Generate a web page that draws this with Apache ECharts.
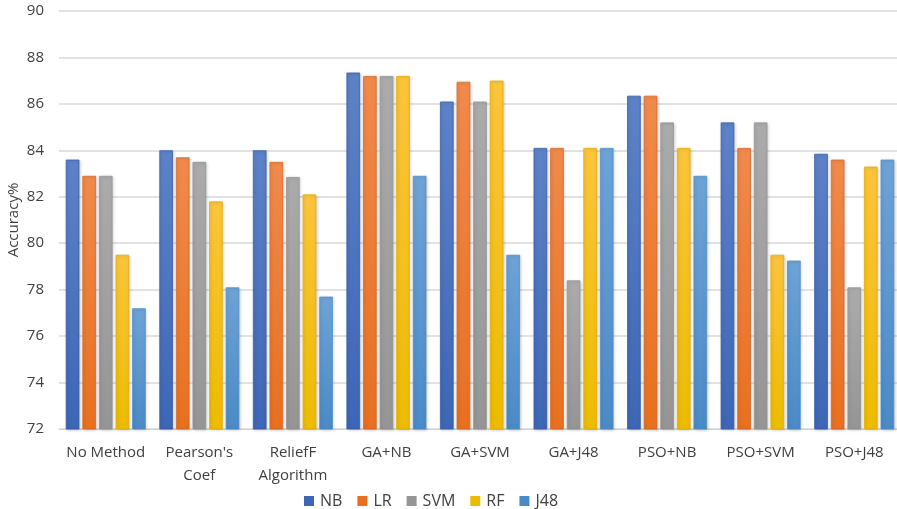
<!DOCTYPE html>
<html>
<head>
<meta charset="utf-8">
<script src="https://cdn.jsdelivr.net/npm/echarts@6/dist/echarts.min.js"></script>
<style>
  html, body { margin: 0; padding: 0; background: #fff; }
  #chart { width: 897px; height: 509px; }
</style>
</head>
<body>
<div id="chart"></div>
<script>
// Feature-selection methods on the x axis
const categories = ['No Method', "Pearson's\nCoef", 'ReliefF\nAlgorithm', 'GA+NB', 'GA+SVM', 'GA+J48', 'PSO+NB', 'PSO+SVM', 'PSO+J48'];

// Classifier accuracy (%) per method
const nbValues  = [83.6, 84.0, 84.0, 87.35, 86.1, 84.1, 86.35, 85.2, 83.85];
const lrValues  = [82.9, 83.7, 83.5, 87.2, 86.95, 84.1, 86.35, 84.1, 83.6];
const svmValues = [82.9, 83.5, 82.85, 87.2, 86.1, 78.4, 85.2, 85.2, 78.1];
const rfValues  = [79.5, 81.8, 82.1, 87.2, 87.0, 84.1, 84.1, 79.5, 83.3];
const j48Values = [77.2, 78.1, 77.7, 82.9, 79.5, 84.1, 82.9, 79.25, 83.6];

const yTicks = { min: 72, max: 90, interval: 2 };

const seriesDefs = [
  { name: 'NB',  data: nbValues,  top: '#5d82c8', bottom: '#3d66b5', border: '#3a5fa8' },
  { name: 'LR',  data: lrValues,  top: '#f08a4c', bottom: '#e8701f', border: '#d9692a' },
  { name: 'SVM', data: svmValues, top: '#ababab', bottom: '#959595', border: '#969696' },
  { name: 'RF',  data: rfValues,  top: '#fcc43c', bottom: '#ecbc00', border: '#e6ae00' },
  { name: 'J48', data: j48Values, top: '#6ea3d6', bottom: '#4a8ac6', border: '#5290ca' }
];

const chart = echarts.init(document.getElementById('chart'));
const font = '"Open Sans", sans-serif';

chart.setOption({
  animation: false,
  backgroundColor: '#ffffff',
  grid: { left: 59, right: -4, top: 11, bottom: 80, containLabel: false, outerBoundsMode: 'none' },
  legend: {
    top: 488,
    left: 299,
    itemWidth: 10,
    itemHeight: 10,
    itemGap: 15,
    icon: 'rect',
    textStyle: { fontFamily: font, fontSize: 16, color: '#404040', padding: [0, 0, 0, 1] },
    data: seriesDefs.map(s => ({ name: s.name, itemStyle: { color: s.bottom, borderWidth: 0 } }))
  },
  xAxis: {
    type: 'category',
    data: categories,
    axisLine: { lineStyle: { color: '#d0d0d0', width: 1 } },
    axisTick: { show: false },
    axisLabel: {
      fontFamily: font, fontSize: 15, color: '#404040', margin: 12, lineHeight: 23, interval: 0
    }
  },
  yAxis: {
    type: 'value',
    min: yTicks.min,
    max: yTicks.max,
    interval: yTicks.interval,
    name: 'Accuracy%',
    nameLocation: 'middle',
    nameGap: 38,
    nameMoveOverlap: false,
    nameTextStyle: { fontFamily: font, fontSize: 15, color: '#404040' },
    axisLine: { show: false },
    axisTick: { show: false },
    axisLabel: { fontFamily: font, fontSize: 15, color: '#404040', margin: 15 },
    splitLine: { lineStyle: { color: '#d9d9d9', width: 1.5 } }
  },
  series: seriesDefs.map(s => ({
    name: s.name,
    type: 'bar',
    data: s.data,
    barWidth: 13.6,
    barGap: '22%',
    itemStyle: {
      color: new echarts.graphic.LinearGradient(0, 0, 0, 1, [
        { offset: 0, color: s.top },
        { offset: 1, color: s.bottom }
      ]),
      borderColor: s.border,
      borderWidth: 0.8,
      shadowColor: 'rgba(0,0,0,0.18)',
      shadowBlur: 3,
      shadowOffsetX: 1,
      shadowOffsetY: 1
    }
  }))
});
</script>
</body>
</html>
